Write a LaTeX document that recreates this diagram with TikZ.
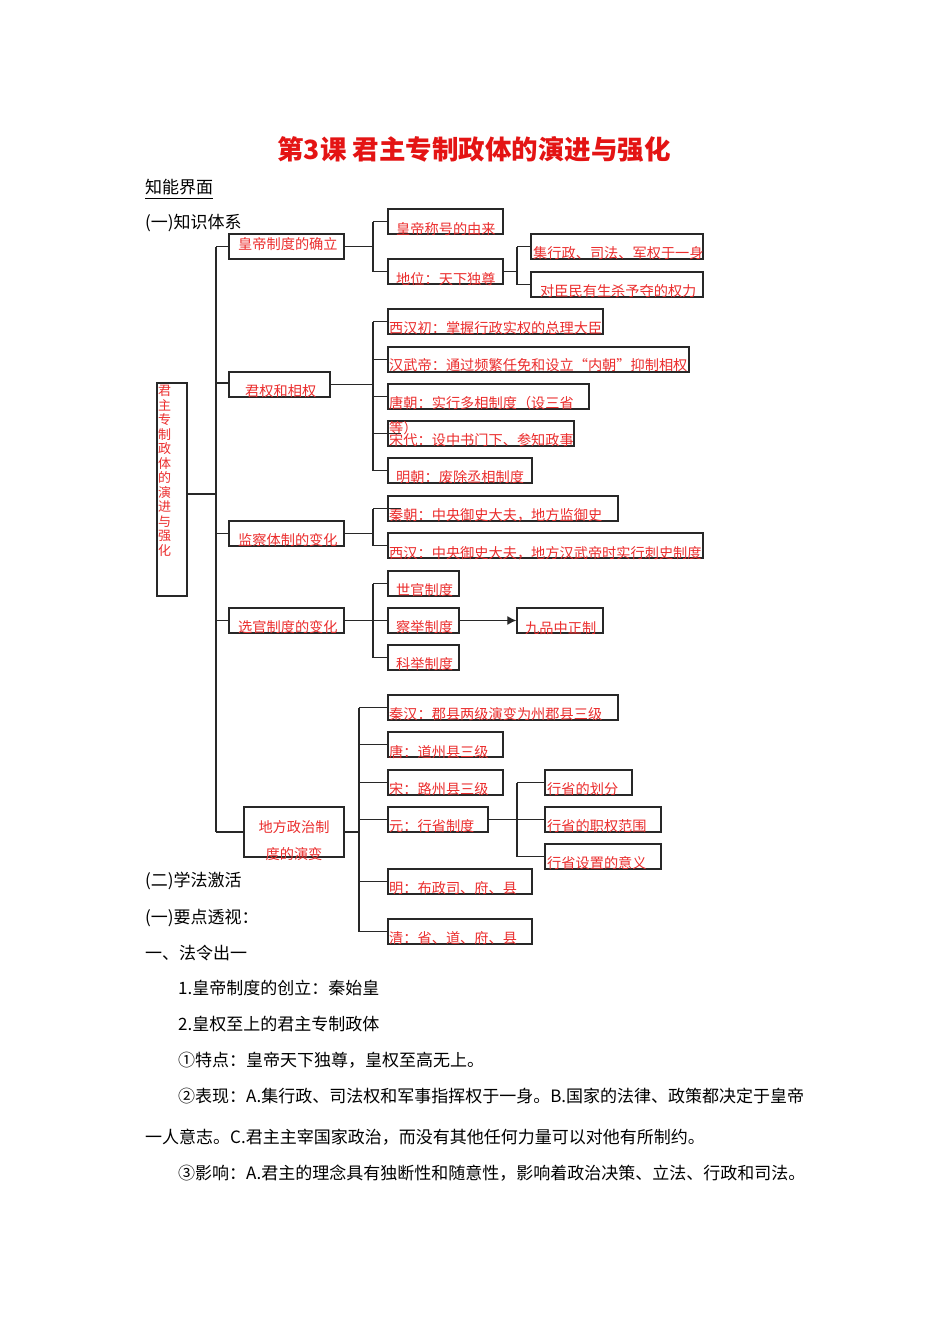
\documentclass[tikz,border=0pt]{standalone}
\usepackage{fontspec}
\setmainfont{Noto Sans CJK SC}
\usetikzlibrary{fit,arrows.meta}
\definecolor{rtext}{RGB}{235,45,45}
\definecolor{ttl}{RGB}{228,20,20}
\definecolor{ln}{RGB}{40,40,40}
\tikzset{
 box/.style={draw=ln, line width=1.3pt, inner sep=0pt},
 lnk/.style={draw=ln, line width=1.2pt},
 rt/.style={text=rtext, font=\fontsize{14.2}{14.2}\selectfont, inner sep=0pt, anchor=west, text height=12.5pt, text depth=1.7pt},
 rv/.style={text=rtext, font=\fontsize{13}{13}\selectfont, inner sep=0pt, text height=11.4pt, text depth=1.6pt},
 bt/.style={text=black, font=\fontsize{17}{17}\selectfont, inner sep=0pt, anchor=west, text height=15pt, text depth=2pt},
}
\begin{document}
\begin{tikzpicture}[x=1pt,y=-1pt]
\fill[white] (0,0) rectangle (950,1344);
\useasboundingbox (0,0) rectangle (950,1344);

% title and headings
\node[font=\fontsize{26.5}{26.5}\selectfont\bfseries, text=ttl, inner sep=0pt] (title) at (474,149) {第3课 君主专制政体的演进与强化};
\node[bt] (h1) at (145,187) {知能界面};
\draw[black, line width=0.9pt] ([yshift=-2.5pt]h1.south west) -- ([yshift=-2.5pt]h1.south east);
\node[bt] (h2) at (145,222) {(一)知识体系};

% fork coordinates
\coordinate (T) at (216,0);
\coordinate (F1) at (373,0);
\coordinate (F2) at (517,0);
\coordinate (F3) at (359,0);
\coordinate (rj) at (187,494);

% root
\node[box, fit={(157,383)(187,596)}] (root) {};
\foreach \c [count=\i] in {君,主,专,制,政,体,的,演,进,与,强,化}
  \node[rv] (rc\i) at (164.5,{391+14.5*(\i-1)}) {\c};

% level 1
\node[box, fit={(229,234)(344,259)}] (hd) {};
\node[rt] (hdt) at (238,244) {皇帝制度的确立};
\node[box, fit={(229,372)(330,397)}] (jq) {};
\node[rt] (jqt) at (245,391) {君权和相权};
\node[box, fit={(229,521)(344,546)}] (jc) {};
\node[rt] (jct) at (238,540) {监察体制的变化};
\node[box, fit={(229,608)(344,633)}] (xg) {};
\node[rt] (xgt) at (238,627) {选官制度的变化};
\node[box, fit={(244,807)(344,857)}] (df) {};
\node[rt, anchor=center] (dft1) at (294,827) {地方政治制};
\node[rt, anchor=center] (dft2) at (294,854) {度的演变};

% 皇帝制度
\node[box, fit={(388,209)(503,234)}] (hd1) {};
\node[rt] (hd1t) at (396,229) {皇帝称号的由来};
\node[box, fit={(388,259)(503,284)}] (hd2) {};
\node[rt] (hd2t) at (396,279) {地位：天下独尊};
\node[box, fit={(531,234)(703,259)}] (hd21) {};
\node[rt] (hd21t) at (533,253) {集行政、司法、军权于一身};
\node[box, fit={(531,272)(703,297)}] (hd22) {};
\node[rt] (hd22t) at (540,291) {对臣民有生杀予夺的权力};

% 君权和相权
\node[box, fit={(388,309)(603,334)}] (jq1) {};
\node[rt] (jq1t) at (389,328) {西汉初：掌握行政实权的总理大臣};
\node[box, fit={(388,347)(689,372)}] (jq2) {};
\node[rt] (jq2t) at (389,365) {汉武帝：通过频繁任免和设立“内朝”抑制相权};
\node[box, fit={(388,384)(589,409)}] (jq3) {};
\node[rt] (jq3t) at (389,403) {唐朝：实行多相制度（设三省};
\node[box, fit={(388,421)(574,446)}] (jq4) {};
\node[rt] (jq3u) at (389,428) {等）};
\node[rt] (jq4t) at (389,440) {宋代：设中书门下、参知政事};
\node[box, fit={(388,458)(532,483)}] (jq5) {};
\node[rt] (jq5t) at (396,477) {明朝：废除丞相制度};

% 监察
\node[box, fit={(388,496)(618,521)}] (jc1) {};
\node[rt] (jc1t) at (389,515) {秦朝：中央御史大夫，地方监御史};
\node[box, fit={(388,533)(703,558)}] (jc2) {};
\node[rt] (jc2t) at (389,553) {西汉：中央御史大夫，地方汉武帝时实行刺史制度};

% 选官
\node[box, fit={(388,571)(459,596)}] (xg1) {};
\node[rt] (xg1t) at (396,590) {世官制度};
\node[box, fit={(388,608)(459,633)}] (xg2) {};
\node[rt] (xg2t) at (396,627) {察举制度};
\node[box, fit={(388,645)(459,670)}] (xg3) {};
\node[rt] (xg3t) at (396,664) {科举制度};
\node[box, fit={(517,608)(603,633)}] (jp) {};
\node[rt] (jpt) at (525,628) {九品中正制};

% 地方
\node[box, fit={(388,695)(618,720)}] (df1) {};
\node[rt] (df1t) at (389,714) {秦汉：郡县两级演变为州郡县三级};
\node[box, fit={(388,732)(503,757)}] (df2) {};
\node[rt] (df2t) at (389,752) {唐：道州县三级};
\node[box, fit={(388,770)(503,795)}] (df3) {};
\node[rt] (df3t) at (389,789) {宋：路州县三级};
\node[box, fit={(388,807)(488,832)}] (df4) {};
\node[rt] (df4t) at (389,826) {元：行省制度};
\node[box, fit={(388,869)(532,894)}] (df5) {};
\node[rt] (df5t) at (389,888) {明：布政司、府、县};
\node[box, fit={(388,919)(532,944)}] (df6) {};
\node[rt] (df6t) at (389,938) {清：省、道、府、县};
\node[box, fit={(545,770)(632,795)}] (xs1) {};
\node[rt] (xs1t) at (547,789) {行省的划分};
\node[box, fit={(545,807)(661,832)}] (xs2) {};
\node[rt] (xs2t) at (547,826) {行省的职权范围};
\node[box, fit={(545,844)(661,869)}] (xs3) {};
\node[rt] (xs3t) at (547,863) {行省设置的意义};

% connectors
\draw[lnk] (root.east |- rj) -- (T |- rj);
\draw[lnk] (T |- hd.west) -- (T |- df.west);
\foreach \n in {hd,jc,xg,df} \draw[lnk] (T |- \n.west) -- (\n.west);
\draw[lnk] ([yshift=1.5pt]T |- jq.west) -- ([yshift=1.5pt]jq.west);

\draw[lnk] (hd.east) -- (F1 |- hd.east);
\draw[lnk] (F1 |- hd1.west) -- (F1 |- hd2.west);
\foreach \n in {hd1,hd2} \draw[lnk] (F1 |- \n.west) -- (\n.west);
\draw[lnk] (hd2.east) -- (F2 |- hd2.east);
\draw[lnk] (F2 |- hd21.west) -- (F2 |- hd22.west);
\foreach \n in {hd21,hd22} \draw[lnk] (F2 |- \n.west) -- (\n.west);

\draw[lnk] (jq.east) -- (F1 |- jq.east);
\draw[lnk] (F1 |- jq1.west) -- (F1 |- jq5.west);
\foreach \n in {jq1,jq2,jq3,jq5} \draw[lnk] (F1 |- \n.west) -- (\n.west);
\draw[lnk] (F1 |- jq4.west) -- ([xshift=14pt]jq4.west);

\draw[lnk] (jc.east) -- (F1 |- jc.east);
\draw[lnk] (F1 |- jc1.west) -- (F1 |- jc2.west);
\draw[lnk] (F1 |- jc1.west) -- ([xshift=14pt]jc1.west);
\draw[lnk] (F1 |- jc2.west) -- (jc2.west);

\draw[lnk] (xg.east) -- (F1 |- xg.east);
\draw[lnk] (F1 |- xg1.west) -- (F1 |- xg3.west);
\foreach \n in {xg1,xg2,xg3} \draw[lnk] (F1 |- \n.west) -- (\n.west);
\draw[lnk, -{Latex[length=9pt,width=9pt]}] (xg2.east) -- (jp.west);

\draw[lnk] (df.east) -- (F3 |- df.east);
\draw[lnk] (F3 |- df1.west) -- (F3 |- df6.west);
\foreach \n in {df1,df2,df3,df4,df5,df6} \draw[lnk] (F3 |- \n.west) -- (\n.west);
\draw[lnk] (df4.east) -- (F2 |- df4.east);
\draw[lnk] (F2 |- xs1.west) -- (F2 |- xs3.west);
\foreach \n in {xs1,xs2,xs3} \draw[lnk] (F2 |- \n.west) -- (\n.west);

% body text
\node[bt] (b1) at (145,880) {(二)学法激活};
\node[bt] (b2) at (145,917) {(一)要点透视：};
\node[bt] (b3) at (145,953) {一、法令出一};
\node[bt] (b4) at (178,988) {1.皇帝制度的创立：秦始皇};
\node[bt] (b5) at (178,1024) {2.皇权至上的君主专制政体};
\node[bt] (b6) at (178,1060) {①特点：皇帝天下独尊，皇权至高无上。};
\node[bt] (b7) at (178,1096) {②表现：A.集行政、司法权和军事指挥权于一身。B.国家的法律、政策都决定于皇帝};
\node[bt] (b8) at (145,1137) {一人意志。C.君主主宰国家政治，而没有其他任何力量可以对他有所制约。};
\node[bt] (b9) at (178,1173) {③影响：A.君主的理念具有独断性和随意性，影响着政治决策、立法、行政和司法。};
\end{tikzpicture}
\end{document}
